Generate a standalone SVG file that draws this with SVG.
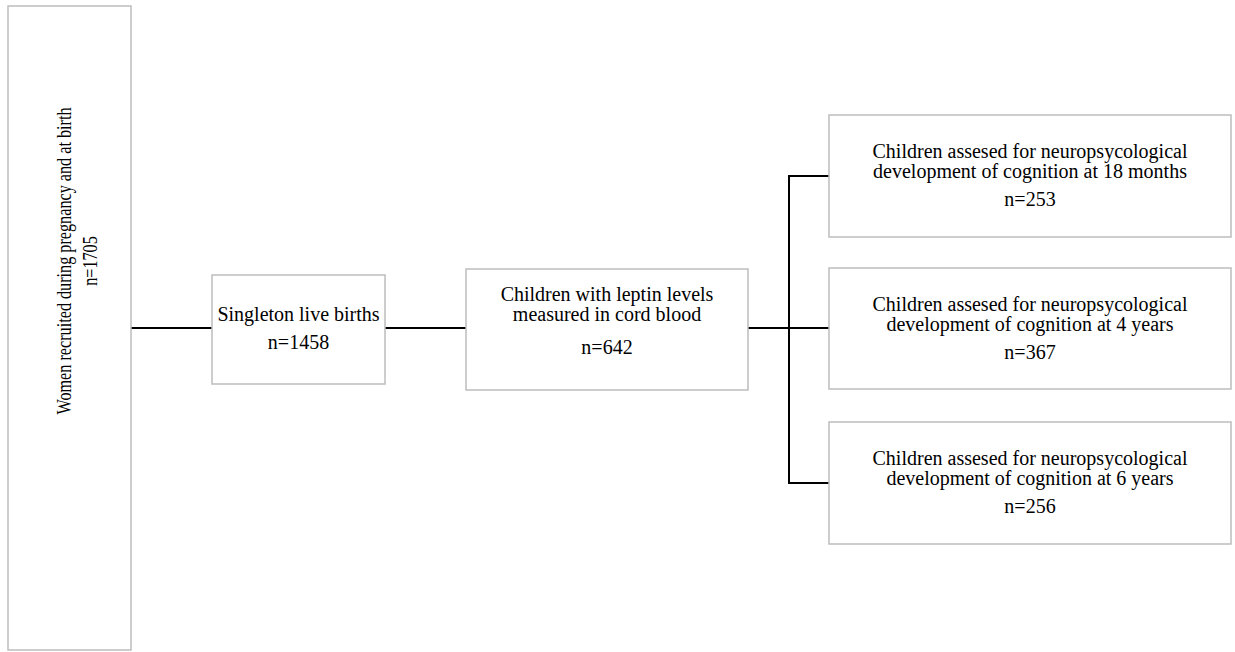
<svg xmlns="http://www.w3.org/2000/svg" width="1235" height="652" viewBox="0 0 1235 652">
<style>
.box{fill:#fff;stroke:#bdbdbd;stroke-width:1.5}
.t{font-family:"Liberation Serif","Times New Roman",serif;font-size:20px;fill:#000;text-anchor:middle}
.c{stroke:#000;stroke-width:2;fill:none}
</style>
<rect width="1235" height="652" fill="#fff"/>
<g id="connectors">
<line class="c" x1="131" y1="328" x2="212" y2="328"/>
<line class="c" x1="385" y1="328" x2="466" y2="328"/>
<line class="c" x1="748" y1="328" x2="829" y2="328"/>
<polyline class="c" points="829,176 789,176 789,483 829,483"/>
</g>
<g id="n1">
<rect class="box" x="8" y="6" width="123" height="644"/>
<text class="t" transform="translate(71,261) rotate(-90) scale(0.81,1)">Women recruited during pregnancy and at birth</text>
<text class="t" transform="translate(97,261) rotate(-90) scale(0.81,1)">n=1705</text>
</g>
<g id="n2">
<rect class="box" x="212" y="275" width="173" height="109"/>
<text class="t" x="298.5" y="321">Singleton live births</text>
<text class="t" x="298.5" y="349">n=1458</text>
</g>
<g id="n3">
<rect class="box" x="466" y="269" width="282" height="121"/>
<text class="t" x="607" y="301">Children with leptin levels</text>
<text class="t" x="607" y="321">measured in cord blood</text>
<text class="t" x="607" y="354">n=642</text>
</g>
<g id="n4">
<rect class="box" x="829" y="115" width="402" height="122"/>
<text class="t" x="1030" y="158">Children assesed for neuropsycological</text>
<text class="t" x="1030" y="178">development of cognition at 18 months</text>
<text class="t" x="1030" y="206">n=253</text>
</g>
<g id="n5">
<rect class="box" x="829" y="268" width="402" height="121"/>
<text class="t" x="1030" y="311">Children assesed for neuropsycological</text>
<text class="t" x="1030" y="331">development of cognition at 4 years</text>
<text class="t" x="1030" y="359">n=367</text>
</g>
<g id="n6">
<rect class="box" x="829" y="422" width="402" height="122"/>
<text class="t" x="1030" y="465">Children assesed for neuropsycological</text>
<text class="t" x="1030" y="485">development of cognition at 6 years</text>
<text class="t" x="1030" y="513">n=256</text>
</g>
</svg>
